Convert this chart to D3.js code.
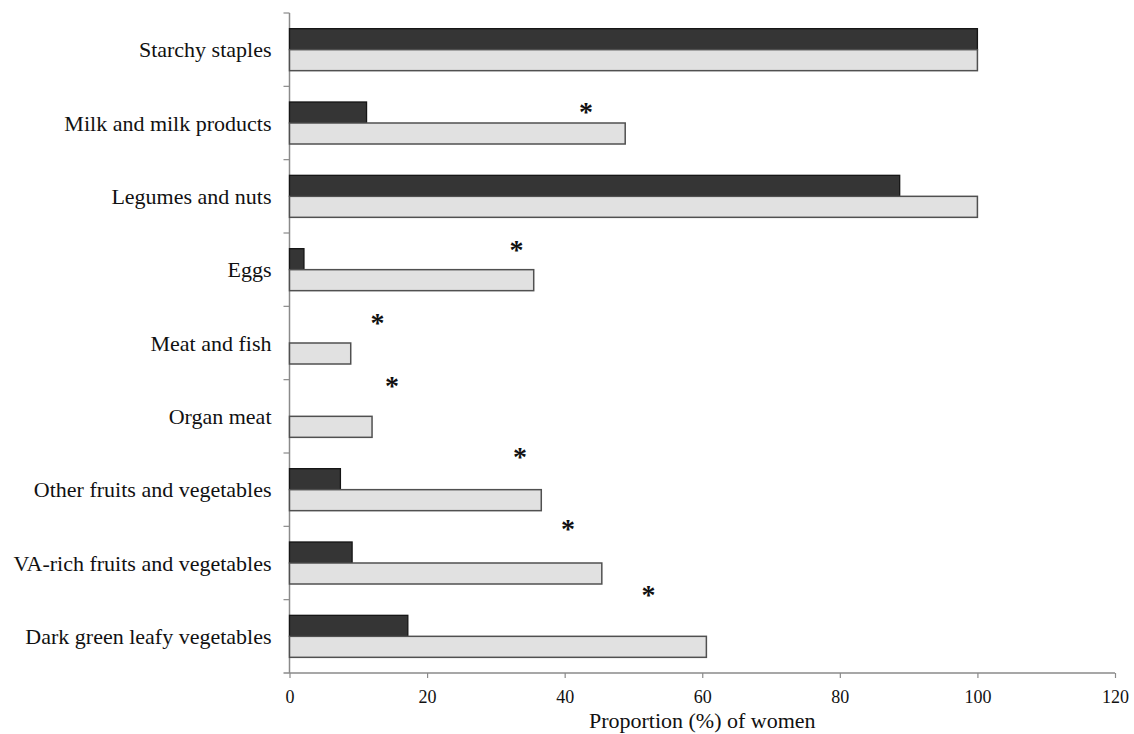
<!DOCTYPE html>
<html>
<head>
<meta charset="utf-8">
<script src="https://cdn.jsdelivr.net/npm/d3@7"></script>
<style>
  html, body { margin: 0; padding: 0; background: #fff; }
  svg { display: block; }
  text { font-family: "Liberation Serif", "Times New Roman", serif; fill: #111; }
</style>
</head>
<body>
<svg id="chart" width="1134" height="734"></svg>
<script>
// Food groups consumed (% of women), two groups compared
const categories = [
  "Starchy staples",
  "Milk and milk products",
  "Legumes and nuts",
  "Eggs",
  "Meat and fish",
  "Organ meat",
  "Other fruits and vegetables",
  "VA-rich fruits and vegetables",
  "Dark green leafy vegetables"
];
const darkValues  = [100, 11.2, 88.7, 2.1, 0, 0, 7.4, 9.1, 17.2];
const lightValues = [100, 48.8, 100, 35.5, 8.9, 12.0, 36.6, 45.4, 60.6];

// Significance markers: category, x position (%), vertical position within the band (fraction)
const sigCategories = ["Milk and milk products", "Eggs", "Meat and fish", "Organ meat",
  "Other fruits and vegetables", "VA-rich fruits and vegetables", "Dark green leafy vegetables"];
const sigX    = [43.1, 33.0, 12.8, 14.9, 33.5, 40.5, 52.2];
const sigBand = [0.31, 0.19, 0.19, 0.045, 0.01, 0.0, -0.105];

const xTicks = [0, 20, 40, 60, 80, 100, 120];
const xTitle = "Proportion (%) of women";

const svg = d3.select("#chart");
const plotLeft = 289.5, plotRight = 1115, plotTop = 13, plotBottom = 673;

const x = d3.scaleLinear().domain([0, 120]).range([plotLeft, plotRight]);
const y = d3.scaleBand().domain(categories).range([plotTop, plotBottom]).paddingInner(0).paddingOuter(0);
const barH = 21;

const axisColor = "#8a8a8a";

// Axes
const xAxis = svg.append("g")
  .attr("transform", `translate(0,${plotBottom})`)
  .call(d3.axisBottom(x).tickValues(xTicks).tickSize(5).tickPadding(12).tickFormat(d3.format("d")));
xAxis.select(".domain").attr("stroke", axisColor).attr("stroke-width", 1.5)
  .attr("d", `M${plotLeft - 6},0H${plotRight}`);
xAxis.selectAll(".tick line").attr("stroke", axisColor).attr("stroke-width", 1.2);
xAxis.selectAll(".tick text").attr("font-size", 18).attr("font-family", "Liberation Serif").attr("fill", "#111");

const yAxis = svg.append("g").attr("transform", `translate(${plotLeft},0)`);
yAxis.append("line").attr("x1", 0).attr("x2", 0).attr("y1", plotTop).attr("y2", plotBottom)
  .attr("stroke", axisColor).attr("stroke-width", 1.5);
// tick marks at band boundaries
const boundaries = categories.map(c => y(c));
yAxis.selectAll("line.tk").data(boundaries).join("line").attr("class", "tk")
  .attr("x1", -6).attr("x2", 0).attr("y1", d => d).attr("y2", d => d)
  .attr("stroke", axisColor).attr("stroke-width", 1.2);
yAxis.selectAll("text").data(categories).join("text")
  .attr("x", -18).attr("y", d => y(d) + y.bandwidth() / 2)
  .attr("dy", "0.35em").attr("text-anchor", "end").attr("font-size", 22)
  .text(d => d);

// Bars
const gBars = svg.append("g");
const mid = c => y(c) + y.bandwidth() / 2;
const darkData = categories.map((c, i) => ({ c, v: darkValues[i] })).filter(d => d.v > 0);
const lightData = categories.map((c, i) => ({ c, v: lightValues[i] }));

gBars.selectAll("rect.dark").data(darkData).join("rect").attr("class", "dark")
  .attr("x", x(0)).attr("y", d => mid(d.c) - barH)
  .attr("width", d => x(d.v) - x(0))
  .attr("height", barH)
  .attr("fill", "#353535").attr("stroke", "#151515").attr("stroke-width", 1.3);

gBars.selectAll("rect.light").data(lightData).join("rect").attr("class", "light")
  .attr("x", x(0)).attr("y", d => mid(d.c))
  .attr("width", d => x(d.v) - x(0))
  .attr("height", barH)
  .attr("fill", "#e1e1e1").attr("stroke", "#505050").attr("stroke-width", 1.5);

// Significance asterisks
svg.append("g").selectAll("text").data(sigCategories).join("text")
  .attr("x", (d, i) => x(sigX[i]))
  .attr("y", (d, i) => y(d) + sigBand[i] * y.bandwidth() + 12)
  .attr("text-anchor", "middle").attr("font-size", 28).attr("font-weight", "bold")
  .text("*");

// Axis title
svg.append("text").attr("x", (plotLeft + plotRight) / 2).attr("y", 728)
  .attr("text-anchor", "middle").attr("font-size", 22).text(xTitle);
</script>
</body>
</html>
